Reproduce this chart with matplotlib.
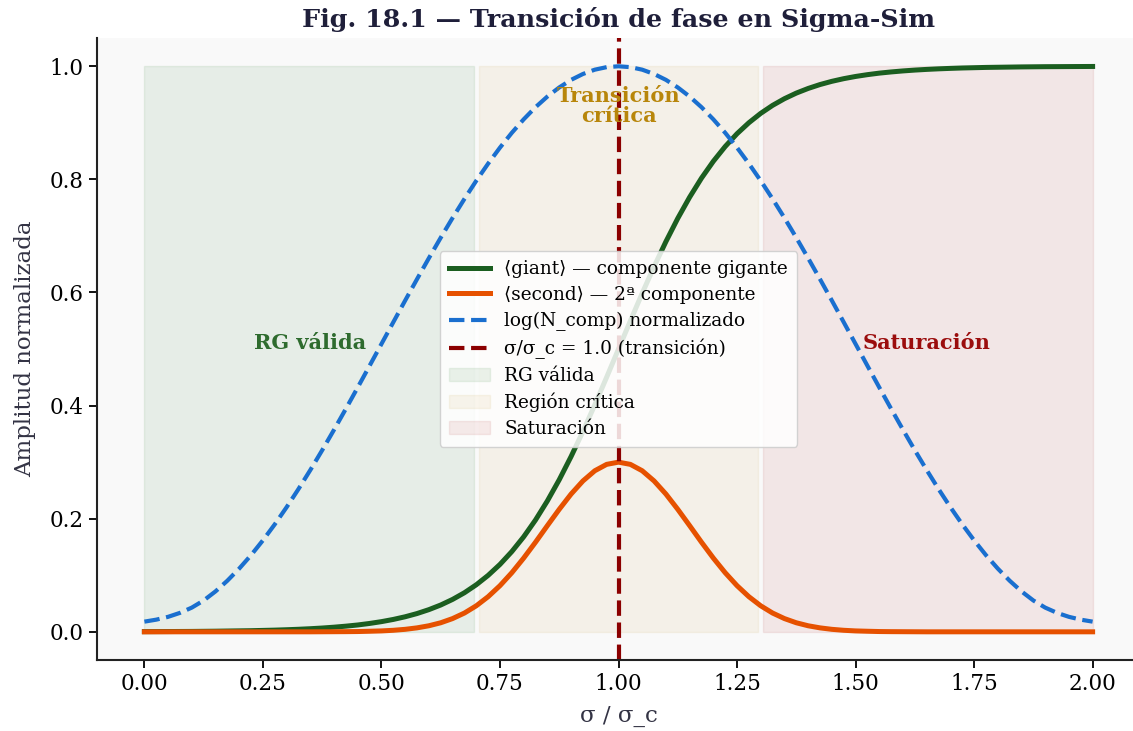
import numpy as np
import matplotlib
matplotlib.use("Agg")
import matplotlib.pyplot as plt

plt.rcParams['font.family'] = ['DejaVu Serif', 'DejaVu Sans']

# sigma / sigma_c sampled every 0.025 (81 points, 0 .. 2)
sigma = np.round(np.arange(0, 81) * 0.025, 3)

giant = [0.0003, 0.0004, 0.0005, 0.0006, 0.0007, 0.0009, 0.0011, 0.0014, 0.0017, 0.0020,
         0.0025, 0.0030, 0.0037, 0.0045, 0.0055, 0.0067, 0.0082, 0.0100, 0.0121, 0.0148,
         0.0180, 0.0219, 0.0266, 0.0323, 0.0392, 0.0474, 0.0573, 0.0691, 0.0832, 0.0998,
         0.1192, 0.1419, 0.1680, 0.1978, 0.2315, 0.2689, 0.3100, 0.3543, 0.4013, 0.4502,
         0.5000,
         0.5498, 0.5987, 0.6457, 0.6900, 0.7311, 0.7685, 0.8022, 0.8320, 0.8581, 0.8808,
         0.9002, 0.9168, 0.9309, 0.9427, 0.9526, 0.9608, 0.9677, 0.9734, 0.9781, 0.9820,
         0.9852, 0.9879, 0.9900, 0.9918, 0.9933, 0.9945, 0.9955, 0.9963, 0.9970, 0.9975,
         0.9980, 0.9983, 0.9986, 0.9989, 0.9991, 0.9993, 0.9994, 0.9995, 0.9996, 0.9997]

second = [0.0, 0.0, 0.0, 0.0, 0.0, 0.0, 0.0, 0.0, 0.0, 0.0,
          0.0, 0.0, 0.0, 0.0, 0.0, 0.0001, 0.0002, 0.0003, 0.0005, 0.0010,
          0.0016, 0.0027, 0.0044, 0.0070, 0.0107, 0.0160, 0.0234, 0.0332, 0.0460, 0.0621,
          0.0816, 0.1045, 0.1304, 0.1585, 0.1878, 0.2166, 0.2436, 0.2668, 0.2848, 0.2961,
          0.3000,
          0.2961, 0.2848, 0.2668, 0.2436, 0.2166, 0.1878, 0.1585, 0.1304, 0.1045, 0.0816,
          0.0621, 0.0460, 0.0332, 0.0234, 0.0160, 0.0107, 0.0070, 0.0044, 0.0027, 0.0016,
          0.0010, 0.0005, 0.0003, 0.0002, 0.0001, 0.0, 0.0, 0.0, 0.0, 0.0,
          0.0, 0.0, 0.0, 0.0, 0.0, 0.0, 0.0, 0.0, 0.0, 0.0]

log_ncomp = [0.0180, 0.0215, 0.0265, 0.0335, 0.0428, 0.0554, 0.0715, 0.0904, 0.1118, 0.1356,
             0.1618, 0.1901, 0.2204, 0.2525, 0.2861, 0.3211, 0.3573, 0.3944, 0.4322, 0.4705,
             0.5090, 0.5475, 0.5858, 0.6236, 0.6607, 0.6969, 0.7319, 0.7655, 0.7976, 0.8279,
             0.8562, 0.8824, 0.9062, 0.9277, 0.9465, 0.9626, 0.9760, 0.9864, 0.9940, 0.9985,
             1.0000,
             0.9985, 0.9940, 0.9864, 0.9760, 0.9626, 0.9465, 0.9277, 0.9062, 0.8824, 0.8562,
             0.8279, 0.7976, 0.7655, 0.7319, 0.6969, 0.6607, 0.6236, 0.5858, 0.5475, 0.5090,
             0.4705, 0.4322, 0.3944, 0.3573, 0.3211, 0.2861, 0.2525, 0.2204, 0.1901, 0.1618,
             0.1356, 0.1118, 0.0904, 0.0715, 0.0554, 0.0428, 0.0335, 0.0265, 0.0215, 0.0180]

sigma_c = 1.0

region_names = ['RG válida', 'Región crítica', 'Saturación']
region_edges = [(0.0, 0.695), (0.705, 1.295), (1.305, 2.0)]
region_colors = ['#2e7d32', '#c8a040', '#b03030']

fig = plt.figure(figsize=(11.33, 7.31), dpi=100)
ax = fig.add_axes([0.0856, 0.097, 0.9206, 0.851])
ax.set_facecolor('#f9f9f9')

for name, (lo, hi), col in zip(region_names, region_edges, region_colors):
    ax.fill_between([lo, hi], 0, 1, color=col, alpha=0.09, label=name)

ax.plot(sigma, giant, color='#1b5e20', lw=3.6, label='⟨giant⟩ — componente gigante')
ax.plot(sigma, second, color='#e65100', lw=3.6, label='⟨second⟩ — 2ª componente')
ax.plot(sigma, log_ncomp, color='#1a6fcf', lw=3.0, ls='--', label='log(N_comp) normalizado')
ax.axvline(sigma_c, color='#8b0000', lw=3.0, ls='--', label='σ/σ_c = 1.0 (transición)')

ax.text(0.35, 0.51, 'RG válida', color='#2e6b2e', fontsize=15, fontweight='bold',
        ha='center', va='center')
ax.text(1.65, 0.51, 'Saturación', color='#9b0d0d', fontsize=15, fontweight='bold',
        ha='center', va='center')
ax.text(1.0, 0.929, 'Transición\ncrítica', color='#b8860b', fontsize=15, fontweight='bold',
        ha='center', va='center', linespacing=1.0)

# legend order: lines first, then shaded regions
handles, labels = ax.get_legend_handles_labels()
order = [3, 4, 5, 6, 0, 1, 2]
ax.legend([handles[i] for i in order], [labels[i] for i in order],
          loc='center', fontsize=13.3, framealpha=0.85, edgecolor='#cccccc',
          handlelength=2.2, borderpad=0.5, labelspacing=0.42)

ax.set_xlim(-0.1, 2.1)
ax.set_ylim(-0.05, 1.05)
xt = np.arange(0, 2.01, 0.25)
yt = np.arange(0, 1.01, 0.2)
ax.set_xticks(xt)
ax.set_yticks(yt)
ax.set_xticklabels([f'{v:.2f}' for v in xt])
ax.set_yticklabels([f'{v:.1f}' for v in yt])
ax.tick_params(labelsize=15.5, length=6, width=1.3)
for s in ['top', 'right']:
    ax.spines[s].set_visible(False)
for s in ['left', 'bottom']:
    ax.spines[s].set_linewidth(1.5)
    ax.spines[s].set_color('#222222')

ax.set_xlabel('σ / σ_c', fontsize=16.5, color='#333344', labelpad=7)
ax.set_ylabel('Amplitud normalizada', fontsize=16.5, color='#333344', labelpad=10)
ax.set_title('Fig. 18.1 — Transición de fase en Sigma-Sim', fontsize=18.3,
             fontweight='bold', color='#1f1f3a', pad=8)

fig.savefig('out.png', dpi=100)
